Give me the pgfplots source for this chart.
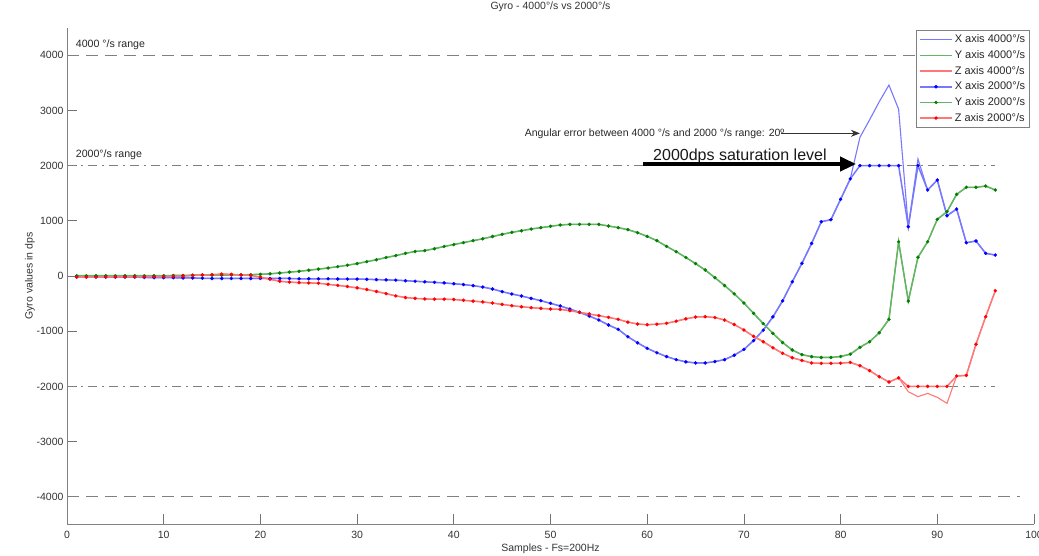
\documentclass[border=0pt]{standalone}
\usepackage{pgfplots}
\pgfplotsset{compat=1.18}
\usepackage{pgfplotstable}
\usepackage{fontspec}
\setmainfont{Liberation Sans}
\usetikzlibrary{arrows.meta}

\definecolor{cB}{RGB}{0,0,255}
\definecolor{cG}{RGB}{0,128,0}
\definecolor{cR}{RGB}{255,0,0}
\definecolor{lB}{RGB}{120,120,255}
\definecolor{lG}{RGB}{100,180,100}
\definecolor{lR}{RGB}{255,120,120}

\pgfplotstableread{
n X Y Z X4 Z4
1 -15 5 -20 -15 -20
2 -15 5 -20 -15 -20
3 -15 5 -20 -15 -20
4 -20 5 -15 -20 -15
5 -20 5 -15 -20 -15
6 -20 5 -15 -20 -15
7 -20 5 -15 -20 -15
8 -25 5 -10 -25 -10
9 -30 5 -10 -30 -10
10 -30 5 -10 -30 -10
11 -30 10 -5 -30 -5
12 -35 10 0 -35 0
13 -35 15 10 -35 10
14 -40 15 20 -40 20
15 -45 15 25 -45 25
16 -45 15 35 -45 35
17 -45 20 30 -45 30
18 -45 20 20 -45 20
19 -45 25 10 -45 10
20 -45 30 -20 -45 -20
21 -45 40 -60 -45 -60
22 -45 55 -95 -45 -95
23 -45 70 -110 -45 -110
24 -50 85 -120 -50 -120
25 -50 105 -125 -50 -125
26 -50 125 -130 -50 -130
27 -50 145 -150 -50 -150
28 -55 170 -170 -55 -170
29 -55 195 -190 -55 -190
30 -55 225 -215 -55 -215
31 -60 260 -245 -60 -245
32 -65 295 -280 -65 -280
33 -70 335 -320 -70 -320
34 -75 370 -360 -75 -360
35 -85 410 -390 -85 -390
36 -95 445 -405 -95 -405
37 -105 460 -415 -105 -415
38 -115 495 -420 -115 -420
39 -125 535 -420 -125 -420
40 -140 570 -425 -140 -425
41 -155 605 -440 -155 -440
42 -175 640 -455 -175 -455
43 -200 675 -470 -200 -470
44 -235 715 -490 -235 -490
45 -284 755 -514 -284 -514
46 -326 791 -538 -326 -538
47 -362 821 -556 -362 -556
48 -405 851 -574 -405 -574
49 -447 876 -586 -447 -586
50 -495 900 -598 -495 -598
51 -543 924 -604 -543 -604
52 -598 936 -628 -598 -628
53 -658 936 -658 -658 -658
54 -725 936 -688 -725 -688
55 -797 936 -719 -797 -719
56 -888 906 -749 -888 -749
57 -966 876 -785 -966 -785
58 -1100 840 -835 -1100 -835
59 -1210 785 -870 -1210 -870
60 -1310 718 -882 -1310 -882
61 -1390 640 -873 -1390 -873
62 -1460 537 -857 -1460 -857
63 -1515 441 -818 -1515 -818
64 -1555 335 -776 -1555 -776
65 -1575 225 -743 -1575 -743
66 -1575 109 -737 -1575 -737
67 -1550 -30 -752 -1550 -752
68 -1515 -172 -797 -1515 -797
69 -1435 -323 -879 -1435 -879
70 -1330 -489 -978 -1330 -978
71 -1170 -676 -1093 -1170 -1093
72 -980 -863 -1190 -980 -1190
73 -740 -1039 -1300 -740 -1300
74 -450 -1205 -1400 -450 -1400
75 -105 -1341 -1480 -105 -1480
76 230 -1425 -1530 230 -1530
77 590 -1461 -1575 590 -1575
78 984 -1476 -1582 984 -1582
79 1020 -1476 -1582 1020 -1582
80 1390 -1458 -1580 1390 -1580
81 1760 -1416 -1565 1760 -1565
82 2000 -1292 -1625 2513 -1625
83 2000 -1190 -1715 2830 -1715
84 2000 -1027 -1824 3158 -1824
85 2000 -785 -1920 3460 -1920
86 2000 621 -1845 3020 -1845
87 893 -453 -2000 893 -2095
88 2000 339 -2000 2120 -2186
89 1558 621 -2000 1558 -2126
90 1739 1027 -2000 1739 -2198
91 1092 1165 -2000 1092 -2307
92 1214 1480 -1812 1214 -1812
93 603 1607 -1800 603 -1800
94 634 1607 -1237 634 -1237
95 411 1630 -737 411 -737
96 380 1558 -266 380 -266
}\data

\begin{document}
\begin{tikzpicture}
\begin{axis}[
  at={(67pt,-524.4pt)}, anchor=south west,
  width=967pt, height=496.8pt, scale only axis,
  xmin=0, xmax=100, ymin=-4500, ymax=4500,
  xtick={0,10,...,100}, ytick={-4000,-3000,...,4000},
  axis x line*=bottom, axis y line*=left,
  axis line style={-, black!50, line width=0.9pt},
  tick align=inside, major tick length=10pt,
  tick style={black!55, line width=0.7pt},
  /pgf/number format/assume math mode=true,
  /pgf/number format/1000 sep={},
  every tick label/.style={font=\fontsize{10.5}{12}\selectfont, text=black!80},
  xticklabel style={yshift=-3pt},
  xlabel={Samples - Fs=200Hz},
  ylabel={Gyro values in dps},
  title={Gyro - 4000°/s vs 2000°/s},
  label style={font=\fontsize{10.5}{12}\selectfont, text=black!80},
  xlabel style={at={(axis description cs:0.5,-0.0495)}, anchor=center},
  ylabel style={at={(axis description cs:-0.0383,0.5)}, anchor=center, rotate=0},
  title style={at={(axis description cs:0.5,1.0294)}, anchor=center, yshift=0pt, font=\fontsize{10.5}{12}\selectfont, text=black!80},
  legend style={at={(axis description cs:0.996,0.995)}, anchor=north east,
    draw=black!50, line width=0.8pt, fill=white, font=\fontsize{11}{12}\selectfont,
    inner sep=2.5pt, row sep=2.2pt, text=black!85},
  legend cell align=left,
  legend image code/.code={\draw[mark repeat=2,mark phase=2,#1] plot coordinates {(0pt,0pt) (16pt,0pt) (32pt,0pt)};},
  clip=false,
]
% reference lines
\addplot[forget plot, black!50, line width=1.1pt, dash pattern=on 12pt off 7pt] coordinates {(0,4000) (98.6,4000)};
\addplot[forget plot, black!50, line width=1.1pt, dash pattern=on 12pt off 7pt] coordinates {(0,-4000) (98.6,-4000)};
\addplot[forget plot, black!50, line width=1.1pt, dash pattern=on 9pt off 5pt on 2pt off 5pt] coordinates {(0,2000) (96,2000)};
\addplot[forget plot, black!50, line width=1.1pt, dash pattern=on 9pt off 5pt on 2pt off 5pt] coordinates {(0,-2000) (96,-2000)};
% 4000 series
\addplot[forget plot, draw=lB, line width=1.1pt, no marks] table[x=n, y=X4] {\data};
\addplot[forget plot, draw=lG, line width=1.1pt, no marks] table[x=n, y=Y] {\data};
\addplot[forget plot, draw=lR, line width=1.1pt, no marks] table[x=n, y=Z4] {\data};
% 2000 series
\addplot[forget plot, draw=lB, line width=1.5pt, mark=*, mark size=1.6pt, mark options={draw=cB, fill=cB, line width=0.3pt}] table[x=n, y=X] {\data};
\addplot[forget plot, draw=lG, line width=1.5pt, mark=*, mark size=1.6pt, mark options={draw=cG, fill=cG, line width=0.3pt}] table[x=n, y=Y] {\data};
\addplot[forget plot, draw=lR, line width=1.5pt, mark=*, mark size=1.6pt, mark options={draw=cR, fill=cR, line width=0.3pt}] table[x=n, y=Z] {\data};
% legend
\addlegendimage{color=lB, line width=1.2pt, no marks}
\addlegendentry{X axis 4000°/s}
\addlegendimage{color=lG, line width=1.2pt, no marks}
\addlegendentry{Y axis 4000°/s}
\addlegendimage{color=lR, line width=1.2pt, no marks}
\addlegendentry{Z axis 4000°/s}
\addlegendimage{color=lB, line width=1.5pt, mark=*, mark size=1.6pt, mark options={draw=cB, fill=cB, line width=0.3pt}}
\addlegendentry{X axis 2000°/s}
\addlegendimage{color=lG, line width=1.5pt, mark=*, mark size=1.6pt, mark options={draw=cG, fill=cG, line width=0.3pt}}
\addlegendentry{Y axis 2000°/s}
\addlegendimage{color=lR, line width=1.5pt, mark=*, mark size=1.6pt, mark options={draw=cR, fill=cR, line width=0.3pt}}
\addlegendentry{Z axis 2000°/s}
% labels
\node[anchor=west, font=\fontsize{10.6}{12}\selectfont, text=black!85, inner sep=0pt] at (axis cs:0.9,4190) {4000 °/s range};
\node[anchor=west, font=\fontsize{10.6}{12}\selectfont, text=black!85, inner sep=0pt] at (axis cs:0.9,2190) {2000°/s range};
% annotations
\node[anchor=base east, font=\fontsize{10.5}{12}\selectfont, text=black!85, inner sep=0pt] at (axis cs:74.2,2536) {Angular error between 4000 °/s and 2000 °/s range: 20º};
\draw[black!80, line width=0.8pt, -{Stealth[length=9pt,width=7pt]}] (axis cs:73.8,2585) -- (axis cs:82.0,2585);
\node[anchor=base west, font=\fontsize{16}{18}\selectfont, text=black!90, inner sep=0pt] at (axis cs:60.6,2101) {2000dps saturation level};
\draw[black, line width=4.5pt, -{Triangle[length=16pt,width=14pt]}] (axis cs:59.6,2029) -- (axis cs:81.6,2029);
\end{axis}
\pgfresetboundingbox
\useasboundingbox (0,0) rectangle (1039pt,-555pt);
\end{tikzpicture}
\end{document}
